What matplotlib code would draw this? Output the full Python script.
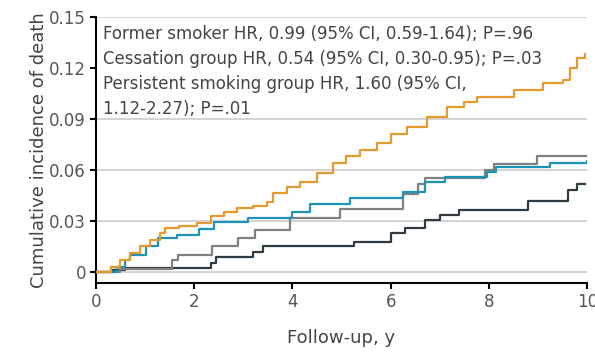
import matplotlib
matplotlib.use("Agg")
import matplotlib.pyplot as plt

# follow-up times (y) and cumulative incidence
persist_t = [0, 0.3, 0.5, 0.7, 0.9, 1.1, 1.3, 1.4, 1.7, 2.05, 2.35, 2.6, 2.87, 3.2, 3.48,
             3.6, 3.9, 4.15, 4.5, 4.83, 5.1, 5.38, 5.72, 6.0, 6.33, 6.74, 7.15, 7.5, 7.76,
             8.5, 9.1, 9.5, 9.65, 9.8, 9.95]
persist_v = [0, 0.003, 0.007, 0.011, 0.015, 0.019, 0.023, 0.026, 0.027, 0.029, 0.033, 0.035,
             0.0376, 0.039, 0.041, 0.0465, 0.05, 0.053, 0.058, 0.064, 0.068, 0.072, 0.076,
             0.081, 0.085, 0.091, 0.097, 0.100, 0.103, 0.107, 0.111, 0.113, 0.12, 0.126, 0.128]

cess_t = [0, 0.43, 0.59, 0.7, 1.03, 1.27, 1.65, 2.1, 2.4, 3.1, 4.0, 4.36, 5.17, 6.25, 6.7,
          7.1, 7.96, 8.15, 9.25, 10.0]
cess_v = [0, 0.003, 0.007, 0.01, 0.015, 0.02, 0.022, 0.025, 0.0295, 0.032, 0.035, 0.04,
          0.0435, 0.047, 0.053, 0.056, 0.059, 0.062, 0.064, 0.065]

former_t = [0, 0.5, 1.55, 1.67, 2.36, 2.9, 3.24, 3.95, 4.97, 6.25, 6.55, 6.7, 7.92, 8.1,
            8.98, 10.0]
former_v = [0, 0.002, 0.007, 0.010, 0.015, 0.020, 0.0247, 0.032, 0.037, 0.046, 0.052,
            0.055, 0.060, 0.0635, 0.068, 0.068]

never_t = [0, 0.3, 0.6, 2.35, 2.45, 3.2, 3.4, 5.25, 6.0, 6.3, 6.7, 7.0, 7.4, 8.8, 9.6,
           9.8, 9.95]
never_v = [0, 0.001, 0.0024, 0.005, 0.009, 0.012, 0.015, 0.0176, 0.023, 0.026, 0.0306,
           0.0335, 0.0365, 0.042, 0.048, 0.052, 0.052]

yticks = [0, 0.03, 0.06, 0.09, 0.12, 0.15]
ytick_labels = ["0", "0.03", "0.06", "0.09", "0.12", "0.15"]
xticks = [0, 2, 4, 6, 8, 10]

note = ("Former smoker HR, 0.99 (95% CI, 0.59-1.64); P=.96\n"
        "Cessation group HR, 0.54 (95% CI, 0.30-0.95); P=.03\n"
        "Persistent smoking group HR, 1.60 (95% CI,\n"
        "1.12-2.27); P=.01")

plt.rcParams["font.family"] = ["DejaVu Sans"]

fig = plt.figure(figsize=(5.95, 3.54), dpi=100)
ax = fig.add_axes([0.161, 0.2006, 0.826, 0.7514])

ax.step(never_t, never_v, where="post", color="#2e3b43", lw=1.6, zorder=3)
ax.step(former_t, former_v, where="post", color="#808080", lw=1.6, zorder=4)
ax.step(cess_t, cess_v, where="post", color="#1d93b5", lw=1.6, zorder=5)
ax.step(persist_t, persist_v, where="post", color="#e59a2e", lw=1.6, zorder=6)

ax.set_xlim(0, 10)
ax.set_ylim(-0.0065, 0.15)
ax.set_yticks(yticks)
ax.set_yticklabels(ytick_labels)
ax.set_xticks(xticks)
ax.grid(axis="y", color="#d0d0d0", lw=1.3, zorder=0)
ax.set_axisbelow(True)
# white band behind the note hides the 0.12 grid line, as in the original
ax.axhspan(0.094, 0.1455, color="white", lw=0, zorder=1)

for s in ["top", "right"]:
    ax.spines[s].set_visible(False)
for s in ["left", "bottom"]:
    ax.spines[s].set_linewidth(1.5)
    ax.spines[s].set_color("black")

ax.tick_params(direction="out", length=4, width=1.5, colors="black",
               labelcolor="#555555", labelsize=12, pad=3)

ax.set_xlabel("Follow-up, y", fontsize=13, color="#444444", labelpad=13)
ax.set_ylabel("Cumulative incidence of death", fontsize=13, color="#444444", labelpad=1)

ax.text(0.15, 0.145, note, fontsize=12, color="#444444", va="top", ha="left",
        linespacing=1.48, zorder=2)

fig.savefig("out.png", dpi=100)
